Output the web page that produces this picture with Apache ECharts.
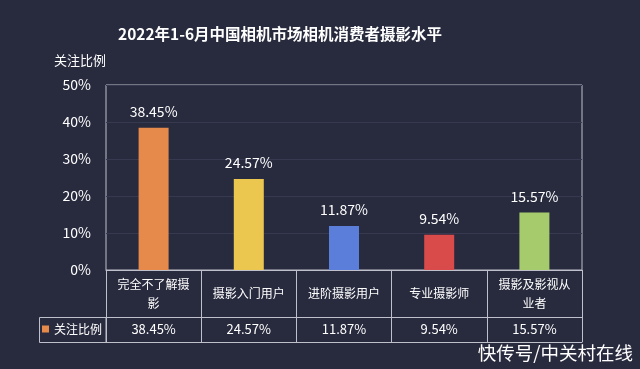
<!DOCTYPE html>
<html>
<head>
<meta charset="utf-8">
<script src="https://cdn.jsdelivr.net/npm/echarts@6/dist/echarts.min.js"></script>
<style>
html,body{margin:0;padding:0;background:#282a3e;}
#c{width:640px;height:369px;}
</style>
</head>
<body>
<div id="c"></div>
<script>
const titleText = '2022年1-6月中国相机市场相机消费者摄影水平';
const seriesName = '关注比例';
const categories = ['完全不了解摄影', '摄影入门用户', '进阶摄影用户', '专业摄影师', '摄影及影视从业者'];
const values = [38.45, 24.57, 11.87, 9.54, 15.57];
const barColors = ['#E68A4B', '#EBC74F', '#5C7EDB', '#D94A4B', '#A5CB6C'];
const yTicks = [0, 10, 20, 30, 40, 50];
const watermark = '快传号/中关村在线';

const FONT = '"Noto Sans CJK SC", "Noto Sans", sans-serif';
const LINE = '#bfc0cc';
const fmt = v => v.toFixed(2) + '%';

const chart = echarts.init(document.getElementById('c'), null, {renderer: 'canvas'});
chart.setOption({
  backgroundColor: '#282a3e',
  textStyle: {fontFamily: FONT},
  title: {
    text: titleText, left: 118, top: 26, padding: 0,
    textStyle: {color: '#ffffff', fontSize: 15.5, fontWeight: 'bold', fontFamily: FONT}
  },
  legend: {
    data: [seriesName], left: 42, top: 323, padding: 0,
    itemWidth: 7, itemHeight: 7, icon: 'rect',
    textStyle: {color: '#ffffff', fontSize: 12, fontFamily: FONT}
  },
  grid: {left: 106, right: 58, top: 85, bottom: 99, show: true, borderColor: LINE, borderWidth: 1, backgroundColor: 'transparent'},
  xAxis: [
    {
      type: 'category', data: categories, position: 'bottom',
      axisLine: {show: true, lineStyle: {color: LINE}},
      axisTick: {show: true, length: 72, interval: 0, lineStyle: {color: LINE}},
      axisLabel: {color: '#ffffff', fontSize: 12, interval: 0, margin: 23.5, verticalAlign: 'middle',
        width: 76, overflow: 'break', lineHeight: 19, fontFamily: FONT}
    },
    {
      type: 'category', data: values.map(fmt), position: 'bottom', offset: 47,
      axisLine: {show: true, lineStyle: {color: LINE}},
      axisTick: {show: false},
      axisLabel: {color: '#ffffff', fontSize: 13, interval: 0, margin: 12, verticalAlign: 'middle', fontFamily: FONT}
    },
    {
      type: 'category', data: categories.map(() => ''), position: 'bottom', offset: 72,
      axisLine: {show: true, lineStyle: {color: LINE}},
      axisTick: {show: false}, axisLabel: {show: false}
    }
  ],
  yAxis: {
    type: 'value', min: yTicks[0], max: yTicks[yTicks.length - 1], interval: yTicks[1] - yTicks[0],
    name: seriesName, nameLocation: 'end', nameGap: 25,
    nameTextStyle: {color: '#ffffff', fontSize: 13, align: 'right', verticalAlign: 'middle', fontFamily: FONT},
    axisLine: {show: false}, axisTick: {show: false},
    axisLabel: {color: '#ffffff', fontSize: 14, margin: 15, formatter: '{value}%', fontFamily: FONT},
    splitLine: {show: true, lineStyle: {color: '#363950'}}
  },
  series: [{
    name: seriesName, type: 'bar', xAxisIndex: 0, barWidth: 30,
    itemStyle: {color: barColors[0]},
    data: values.map((v, i) => ({value: v, itemStyle: {color: barColors[i]}})),
    label: {show: true, position: 'top', distance: 9, color: '#ffffff', fontSize: 14, fontFamily: FONT,
      formatter: p => fmt(p.value)}
  }],
  graphic: [
    {type: 'rect', shape: {x: 39.5, y: 317.5, width: 66.5, height: 25}, style: {fill: 'none', stroke: LINE, lineWidth: 1}, silent: true, z: 10},
    {type: 'text', right: 7, top: 344, style: {text: watermark, fill: '#ffffff', font: '18.5px ' + FONT}, z: 10}
  ]
});
</script>
</body>
</html>
